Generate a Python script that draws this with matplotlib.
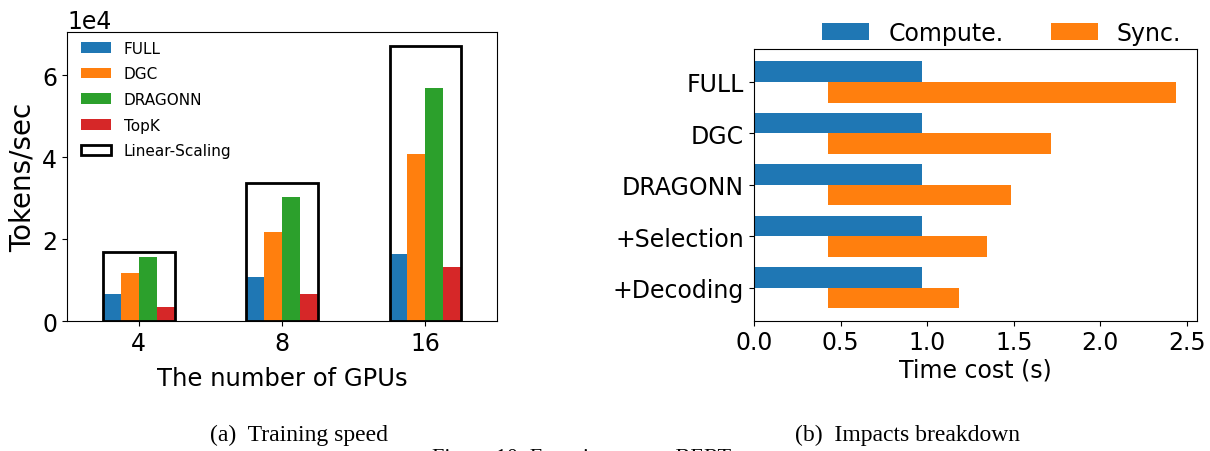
import numpy as np
import matplotlib
matplotlib.use('Agg')
import matplotlib.pyplot as plt

# (a) training speed, tokens/sec
gpus = ['4', '8', '16']
full = [6540, 10700, 16350]
dgc = [11700, 21700, 40800]
dragonn = [15600, 30300, 57000]
topk = [3400, 6540, 13100]
linear = [16800, 33600, 67200]

# (b) impacts breakdown, seconds
stages = ['FULL', 'DGC', 'DRAGONN', '+Selection', '+Decoding']
compute = [0.97, 0.97, 0.97, 0.97, 0.97]
sync_start = [0.43, 0.43, 0.43, 0.43, 0.43]
sync_end = [2.434, 1.713, 1.483, 1.345, 1.183]

fig = plt.figure(figsize=(12.1, 4.52), dpi=100)

# ---- left: training speed
ax1 = fig.add_axes([0.0554, 0.2876, 0.3554, 0.6394])
x = np.arange(len(gpus))
w = 0.125
ax1.bar(x - 1.5*w, full, w, label='FULL', color='#1f77b4')
ax1.bar(x - 0.5*w, dgc, w, label='DGC', color='#ff7f0e')
ax1.bar(x + 0.5*w, dragonn, w, label='DRAGONN', color='#2ca02c')
ax1.bar(x + 1.5*w, topk, w, label='TopK', color='#d62728')
ax1.bar(x, linear, 4*w, fill=False, edgecolor='black', linewidth=2,
        label='Linear-Scaling')
ax1.set_xticks(x)
ax1.set_xticklabels(gpus)
ax1.set_xlim(-0.5, 2.5)
ax1.set_yticks([0, 20000, 40000, 60000])
ax1.ticklabel_format(style='sci', axis='y', scilimits=(0, 0))
ax1.yaxis.get_offset_text().set_fontsize(17)
ax1.tick_params(labelsize=17)
ax1.set_ylabel('Tokens/sec', fontsize=20)
ax1.set_xlabel('The number of GPUs', fontsize=17.5, labelpad=8)
ax1.legend(loc='upper left', bbox_to_anchor=(0, 1.018), frameon=False,
           fontsize=11, labelspacing=0.7)

# ---- right: breakdown
ax2 = fig.add_axes([0.6231, 0.2883, 0.3659, 0.601])
y = np.arange(len(stages))
h = 0.4
ax2.barh(y - h/2, compute, h, label='Compute.', color='#1f77b4')
ax2.barh(y + h/2, np.array(sync_end) - np.array(sync_start), h,
         left=sync_start, label='Sync.', color='#ff7f0e')
ax2.set_yticks(y)
ax2.set_yticklabels(stages)
ax2.invert_yaxis()
ax2.set_xticks([0.0, 0.5, 1.0, 1.5, 2.0, 2.5])
ax2.tick_params(labelsize=17)
ax2.set_xlabel('Time cost (s)', fontsize=17, labelpad=2)
ax2.legend(loc='lower right', bbox_to_anchor=(1.013, 0.937), ncol=2,
           frameon=False, fontsize=17)

# captions
serif = ['Liberation Serif', 'DejaVu Serif']
fig.text(0.247, 0.0243, '(a)  Training speed', ha='center', va='baseline',
         fontsize=17, family=serif)
fig.text(0.75, 0.0243, '(b)  Impacts breakdown', ha='center', va='baseline',
         fontsize=17, family=serif)
fig.text(432/1210, 0.0066, 'Figure 10: Experiments on BERT', ha='left',
         va='top', fontsize=16, family=serif)

fig.savefig('out.png', dpi=100)
